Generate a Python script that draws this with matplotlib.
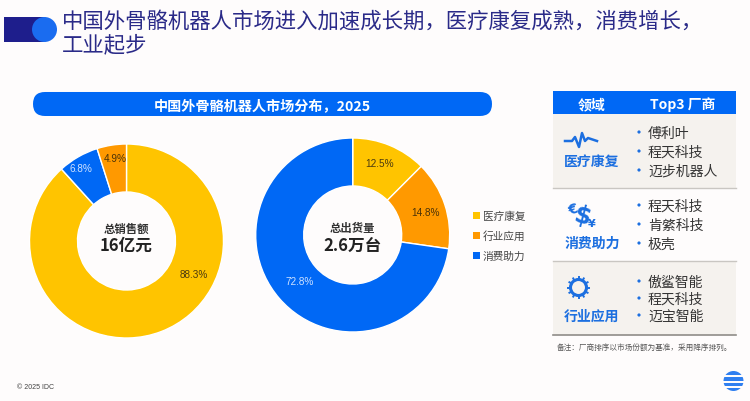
import matplotlib
matplotlib.use("Agg")
import matplotlib.pyplot as plt
import numpy as np
from matplotlib.patches import Circle, FancyBboxPatch, Rectangle

plt.rcParams['font.family'] = ['Noto Sans CJK SC', 'DejaVu Sans']

# Data.
title_lines = ["中国外骨骼机器人市场进入加速成长期，医疗康复成熟，消费增长，", "工业起步"]
bar_title = "中国外骨骼机器人市场分布，2025"
segments = ["医疗康复", "行业应用", "消费助力"]
sales_order = ["医疗康复", "消费助力", "行业应用"]
sales_pct = [88.3, 6.8, 4.9]
units_order = ["医疗康复", "行业应用", "消费助力"]
units_pct = [12.5, 14.8, 72.8]
table_fields = ["医疗康复", "消费助力", "行业应用"]
table_vendors = [
    ["傅利叶", "程天科技", "迈步机器人"],
    ["程天科技", "肯綮科技", "极壳"],
    ["傲鲨智能", "程天科技", "迈宝智能"],
]
note = "备注：厂商排序以市场份额为基准，采用降序排列。"

BG = '#FEFCFC'
NAVY = '#1E1E8C'
colors = {"医疗康复": '#FFC400', "行业应用": '#FF9900', "消费助力": '#0068F5'}
label_colors = {"医疗康复": '#4A3A10', "行业应用": '#4A3208', "消费助力": '#CFE2FF'}

fig = plt.figure(figsize=(7.5, 4.02), dpi=100, facecolor=BG)
ax = fig.add_axes([0, 0, 1, 1])


def Y(py):
    # Work in image pixels, top-down.
    return 402 - py


def donut(cx, cy, order, pct, label_pos, head, big):
    ax.pie(pct, colors=[colors[k] for k in order], startangle=90, counterclock=False,
           center=(cx, Y(cy)), radius=97, frame=True,
           wedgeprops=dict(width=48, edgecolor='#FFFFFF', linewidth=1.0))
    for k, p, (dx, dy) in zip(order, pct, label_pos):
        ax.text(cx + dx, Y(cy + dy), f"{p}%", ha='center', va='center', fontsize=7.2,
                family='Liberation Sans', color=label_colors[k])
    ax.text(cx, Y(229), head, ha='center', va='center', fontsize=8.2,
            fontweight='bold', color='#333333')
    ax.text(cx, Y(246), big, ha='center', va='center', fontsize=12,
            fontweight='bold', color='#222222')


donut(126.5, 242, sales_order, sales_pct, [(67, 33), (-46, -73), (-11, -83)], "总销售额", "16亿元")
donut(352.7, 236, units_order, units_pct, [(27, -72), (73, -23), (-53, 46)], "总出货量", "2.6万台")

# Title and the toggle mark.
ax.add_patch(Rectangle((4, Y(43)), 40, 25, fc=NAVY, ec='none'))
ax.add_patch(Circle((44.5, Y(30.5)), 12.5, fc='#1A6CF0', ec='none'))
for i, line in enumerate(title_lines):
    ax.text(62, Y(22 + i * 23), line, ha='left', va='center', fontsize=15.4, color='#2A2A88')

# Blue pill above the donuts.
ax.add_patch(FancyBboxPatch((45, Y(105)), 435, 0.01,
                            boxstyle="round,pad=12,rounding_size=12", fc='#0068F5', ec='none'))
ax.text(262, Y(106), bar_title, ha='center', va='center', fontsize=10.2, fontweight='bold',
        color='white')

# Legend.
for i, s in enumerate(segments):
    py = 216 + i * 20
    ax.add_patch(Rectangle((473, Y(py + 3.5)), 7, 7, fc=colors[s], ec='none'))
    ax.text(483, Y(py + 0.5), s, ha='left', va='center', fontsize=7.7, color='#444444')

# Right table.
ax.add_patch(Rectangle((553, Y(115)), 183, 23, fc='#0068F5', ec='none'))
ax.text(592, Y(105), "领域", ha='center', va='center', fontsize=10, fontweight='bold', color='white')
ax.text(683, Y(105), "Top3 厂商", ha='center', va='center', fontsize=10, fontweight='bold', color='white')

row_top = [115, 189, 262]
row_bot = [189, 262, 336]
row_bg = ['#F5F2EE', BG, '#F5F2EE']
vendor_y = [[134, 153, 172], [207, 226, 245], [283, 300, 317]]
field_y = [162, 244, 317]
for i in range(3):
    ax.add_patch(Rectangle((553, Y(row_bot[i])), 183, row_bot[i] - row_top[i], fc=row_bg[i], ec='none'))
    ax.text(592, Y(field_y[i]), table_fields[i], ha='center', va='center', fontsize=10,
            fontweight='bold', color='#1C6FE0')
    for v, py in zip(table_vendors[i], vendor_y[i]):
        ax.add_patch(Circle((639, Y(py - 1)), 1.6, fc='#1C6FE0', ec='none'))
        ax.text(648, Y(py), v, ha='left', va='center', fontsize=10, color='#333333')
ax.plot([553, 736], [Y(189), Y(189)], color='#C9C6C2', lw=1)
ax.plot([553, 736], [Y(262), Y(262)], color='#C9C6C2', lw=1)
ax.plot([553, 736], [Y(336), Y(336)], color='#8F8C88', lw=1.2)

# Icons.
pulse_x = [565, 572, 575, 579, 582, 585, 588, 597]
pulse_y = [142, 142, 138, 148, 134, 142, 139, 142]
ax.plot(pulse_x, [Y(p) for p in pulse_y], color='#1C6FE0', lw=1.8, solid_joinstyle='round')
ax.text(573, Y(210), "€", ha='center', va='center', fontsize=10, fontweight='bold',
        family='DejaVu Sans', color='#1C6FE0', rotation=15)
ax.text(582, Y(217), "$", ha='center', va='center', fontsize=17, fontweight='bold',
        family='DejaVu Sans', color='#1C6FE0', rotation=-15)
ax.text(592, Y(224), "¥", ha='center', va='center', fontsize=8, fontweight='bold',
        family='DejaVu Sans', color='#1C6FE0')
ax.add_patch(Circle((578.5, Y(288.5)), 8, fc='none', ec='#1C6FE0', lw=2.2))
for a in np.arange(0, 360, 30):
    ax.plot([578.5 + 8 * np.cos(np.radians(a)), 578.5 + 10.5 * np.cos(np.radians(a))],
            [Y(288.5) + 8 * np.sin(np.radians(a)), Y(288.5) + 10.5 * np.sin(np.radians(a))],
            color='#1C6FE0', lw=1.4)

# Footer.
ax.text(557, Y(348), note, ha='left', va='center', fontsize=5.5, color='#555555')
ax.text(17, Y(388), "© 2025 IDC", ha='left', va='center', fontsize=5, family='Liberation Sans',
        color='#444444')
ax.add_patch(Circle((733.5, Y(382)), 10, fc='#2F7FF0', ec='none'))
for py in [377, 382.5, 387.5]:
    ax.add_patch(Rectangle((722, Y(py + 1)), 23, 1.8, fc=BG, ec='none'))

ax.set_xlim(0, 750)
ax.set_ylim(0, 402)
ax.set_aspect('auto')
ax.axis('off')
fig.savefig('out.png', dpi=100, facecolor=BG)
